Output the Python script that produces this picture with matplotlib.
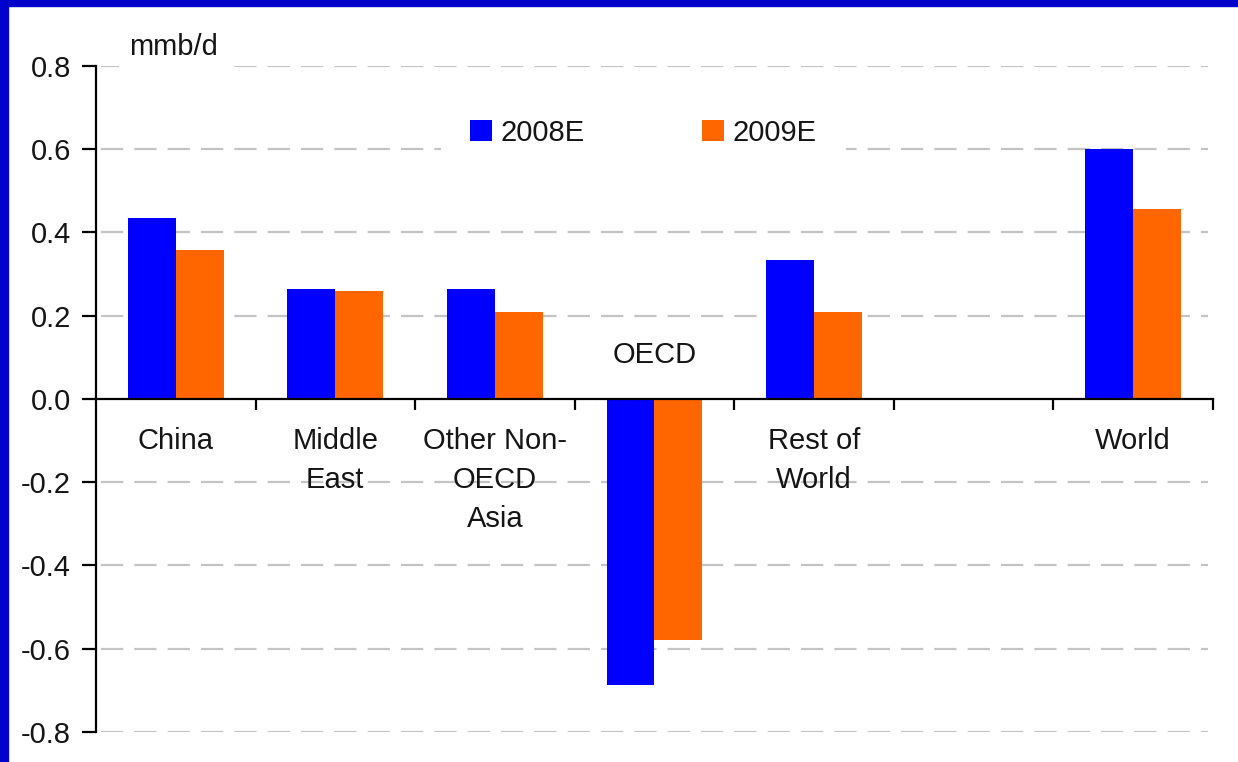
import matplotlib
matplotlib.use('Agg')
import matplotlib.pyplot as plt
from matplotlib.patches import Rectangle
import numpy as np

plt.rcParams['font.family'] = ['Liberation Sans', 'DejaVu Sans']

# 数据
regions = ['China', 'Middle\nEast', 'Other Non-\nOECD\nAsia', 'OECD', 'Rest of\nWorld', '', 'World']
vals_2008 = [0.435, 0.264, 0.264, -0.687, 0.334, np.nan, 0.600]
vals_2009 = [0.358, 0.260, 0.210, -0.580, 0.210, np.nan, 0.457]
series_names = ['2008E', '2009E']
yticks = [-0.8, -0.6, -0.4, -0.2, 0.0, 0.2, 0.4, 0.6, 0.8]

blue = '#0000FF'
orange = '#FF6600'
txt = '#151515'
fs = 21

fig = plt.figure(figsize=(12.38, 7.62), dpi=100)
ax = fig.add_axes([0.0775, 0.0394, 0.9023, 0.874])

x = np.arange(len(regions))
w = 0.3
ax.bar(x - w/2, vals_2008, w, color=blue, label=series_names[0], zorder=3)
ax.bar(x + w/2, vals_2009, w, color=orange, label=series_names[1], zorder=3)

ax.set_xlim(-0.5, len(regions) - 0.5)
ax.set_ylim(-0.8, 0.8)

# 网格线（虚线）
for yv in yticks:
    if yv == 0:
        continue
    ax.plot([-0.47, len(regions) - 0.53], [yv, yv], color='#c4c4c4', lw=1.6,
            linestyle=(0, (10, 5)), zorder=1)

# 坐标轴
for s in ['top', 'right']:
    ax.spines[s].set_visible(False)
ax.spines['bottom'].set_position(('data', 0))
ax.spines['bottom'].set_linewidth(1.6)
ax.spines['left'].set_linewidth(1.6)
ax.spines['bottom'].set_zorder(4)

ax.set_yticks(yticks)
ax.set_yticklabels([f'{v:.1f}' for v in yticks], fontsize=fs, color=txt)
ax.tick_params(axis='y', direction='out', length=10, width=1.6, pad=8)

ax.set_xticks(np.arange(0.5, len(regions), 1.0))
ax.set_xticklabels([])
ax.tick_params(axis='x', direction='out', length=8, width=1.6)

# 类别标签
for i, name in enumerate(regions):
    if not name:
        continue
    if vals_2008[i] < 0:
        ax.text(i, 0.106, name, ha='center', va='center', fontsize=fs, color=txt, zorder=5)
    else:
        ax.text(i, -0.068, name, ha='center', va='top', fontsize=fs, color=txt,
                linespacing=1.5, zorder=5)

# 单位
ax.text(-0.29, 0.845, 'mmb/d', ha='left', va='center', fontsize=fs, color=txt,
        clip_on=False, zorder=5,
        bbox=dict(facecolor='white', edgecolor='none', boxstyle='square,pad=0.35'))

leg = ax.legend(loc='center', bbox_to_anchor=(0.49, 0.90), ncol=2, fontsize=fs,
                frameon=True, fancybox=False, framealpha=1, edgecolor='none',
                facecolor='white', handlelength=0.75, handleheight=0.75,
                handletextpad=0.3, columnspacing=4.0, borderpad=1.0)
for t in leg.get_texts():
    t.set_color(txt)
leg.set_zorder(6)

# 蓝色边框
fig.patches.append(Rectangle((0, 1 - 6/762), 1, 6/762, transform=fig.transFigure,
                             color='#0000CC', zorder=10))
fig.patches.append(Rectangle((0, 0), 8/1238, 1, transform=fig.transFigure,
                             color='#0000CC', zorder=10))

fig.savefig('out.png', dpi=100)
